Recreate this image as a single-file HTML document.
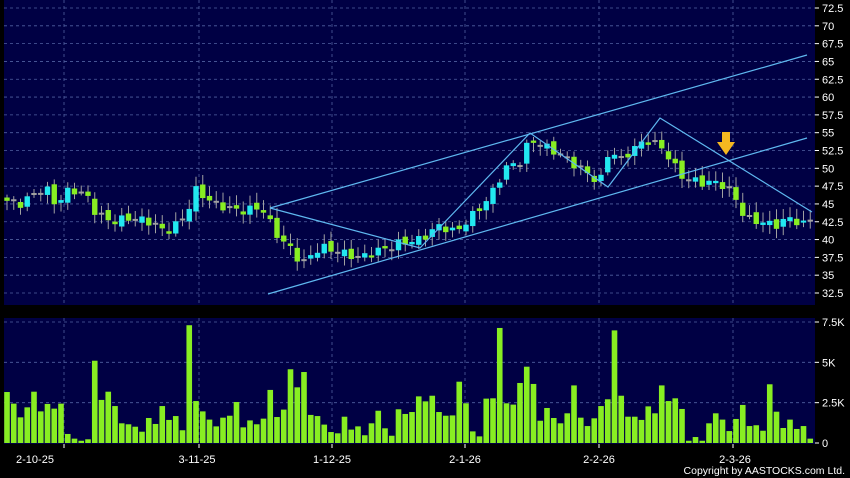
<!DOCTYPE html>
<html><head><meta charset="utf-8"><style>
html,body{margin:0;padding:0;background:#000;}
svg{display:block;font-family:"Liberation Sans",sans-serif;}
</style></head><body>
<svg id="s" width="850" height="478" xmlns="http://www.w3.org/2000/svg">
<rect x="0" y="0" width="850" height="478" fill="#000"/>
<rect x="4" y="0" width="811" height="305" fill="#000044"/>
<rect x="4" y="318" width="811" height="126" fill="#000044"/>
<g id="grid"></g>
<g id="vol"></g>
<g id="cand"></g>
<g stroke="#5fb8f0" stroke-width="1.2" fill="none">
<line x1="270" y1="208" x2="807" y2="55"/>
<line x1="268" y1="294" x2="807" y2="138"/>
<polyline points="270,208 420,248 530,133 608,187 660,118 812,212"/>
</g>
<g>
<rect x="722" y="132" width="8" height="11" fill="#f5b820"/>
<polygon points="717,142 735,142 726,155" fill="#f5b820"/>
</g>
<g id="lab" fill="#fff" font-size="11"></g>
<text x="845" y="474" fill="#fff" font-size="10.5" text-anchor="end">Copyright by AASTOCKS.com Ltd.</text>
</svg>
<script>
var NS="http://www.w3.org/2000/svg";
function el(p,t,a){var e=document.createElementNS(NS,t);for(var k in a)e.setAttribute(k,a[k]);p.appendChild(e);return e;}
var grid=document.getElementById('grid'),lab=document.getElementById('lab');
function py(p){return 8+(72.5-p)*7.125;}
function vy(v){return 443-v/7.5*121;}
for(var p=32.5;p<=72.5;p+=2.5){var y=py(p);
 el(grid,'line',{x1:4,x2:815,y1:y,y2:y,stroke:'#5060a0','stroke-dasharray':'3,3','stroke-width':0.8});
 el(lab,'line',{x1:815,x2:819,y1:y,y2:y,stroke:'#fff'});
 var t=el(lab,'text',{x:822,y:y+4});t.textContent=(p%1?p.toFixed(1):p.toFixed(0));}
[[7.5,'7.5K'],[5,'5K'],[2.5,'2.5K'],[0,'0']].forEach(function(a){var y=vy(a[0]);
 if(a[0]>0)el(grid,'line',{x1:4,x2:815,y1:y,y2:y,stroke:'#5060a0','stroke-dasharray':'3,3','stroke-width':0.8});
 el(lab,'line',{x1:815,x2:819,y1:y,y2:y,stroke:'#fff'});
 var t=el(lab,'text',{x:822,y:y+4});t.textContent=a[1];});
[[64,'2-10-25',35],[199,'3-11-25',197],[332,'1-12-25',332],[465,'2-1-26',465],[599,'2-2-26',599],[733,'2-3-26',735]].forEach(function(a){
 el(grid,'line',{x1:a[0],x2:a[0],y1:0,y2:305,stroke:'#5060a0','stroke-dasharray':'3,3','stroke-width':0.8});
 el(grid,'line',{x1:a[0],x2:a[0],y1:318,y2:444,stroke:'#5060a0','stroke-dasharray':'3,3','stroke-width':0.8});
 el(lab,'line',{x1:a[0],x2:a[0],y1:444,y2:448,stroke:'#fff'});
 var t=el(lab,'text',{x:a[2],y:463,'text-anchor':'middle'});t.textContent=a[1];});
var path=[[5,45.5],[20,45],[35,46.5],[45,47.5],[55,45],[70,47],[85,46.5],[95,44],[110,42.5],[130,43],[150,42.5],[165,41],[185,43],[195,47],[215,45],[240,44],[262,44.5],[275,41],[295,38],[302,36.5],[320,39],[345,38],[360,37.5],[380,38.5],[400,39.5],[420,40],[440,42],[455,41],[470,43],[490,46],[505,50],[520,51],[530,54],[545,53],[560,52],[580,50],[600,48],[610,53],[620,51],[635,53],[650,54],[665,52.5],[680,49],[700,48],[720,48],[735,46],[745,43],[760,42.5],[775,42],[790,43],[805,42],[812,43]];
function interp(x){for(var i=0;i<path.length-1;i++){if(x<=path[i+1][0]){var a=path[i],b=path[i+1];return a[1]+(b[1]-a[1])*(x-a[0])/(b[0]-a[0]);}}return path[path.length-1][1];}
var vols=[3.16,2.44,1.59,2.21,3.18,1.96,2.42,2.13,2.44,0.56,0.27,0.14,0.23,5.1,2.67,3.18,2.29,1.22,1.16,1.01,0.70,1.55,1.18,2.29,1.43,1.67,0.79,7.3,2.6,1.96,1.45,1.03,1.57,1.69,2.54,0.97,1.40,1.16,1.51,3.29,1.61,2.07,4.57,3.45,4.40,1.74,1.67,1.14,0.68,0.60,1.63,0.83,1.03,0.48,1.22,2.0,0.91,0.45,2.09,1.80,1.92,2.89,2.58,2.93,1.92,1.69,1.71,3.80,2.46,0.72,0.41,2.75,2.77,7.13,2.46,2.38,3.72,4.73,3.66,1.38,2.17,1.55,1.22,1.84,3.57,1.57,1.05,1.53,2.29,2.71,6.98,2.93,1.63,1.63,1.43,2.27,1.84,3.57,2.60,2.77,2.11,0.14,0.37,0.14,1.22,1.84,1.45,0.74,1.49,2.36,1.05,1.10,0.76,3.64,1.94,0.93,1.45,0.87,1.05,0.27];
var cand=document.getElementById('cand'),vol=document.getElementById('vol');
var n=vols.length,prev=interp(5);
for(var i=0;i<n;i++){var x=7+i*6.75;var c=interp(x)+Math.sin(i*2.3)*0.6;var o=prev+Math.cos(i*1.7)*0.4;
 var hi=Math.max(o,c)+0.4+Math.abs(Math.sin(i*3.1))*1.0,lo=Math.min(o,c)-0.4-Math.abs(Math.cos(i*2.7))*0.9;
 var col=c>o?'#22e8f0':'#88ee22';
 el(cand,'line',{x1:x,x2:x,y1:py(hi),y2:py(lo),stroke:'#a0a0a0','stroke-width':1});
 var t=py(Math.max(o,c)),b=py(Math.min(o,c));if(b-t<2){b=t+2;col='#a0a0a0';}
 el(cand,'rect',{x:x-2.7,y:t,width:5.4,height:b-t,fill:col});
 prev=c;
 var v=vols[i];el(vol,'rect',{x:x-2.8,y:vy(v),width:5.6,height:443-vy(v),fill:'#88ee22'});}
</script>
</body></html>
